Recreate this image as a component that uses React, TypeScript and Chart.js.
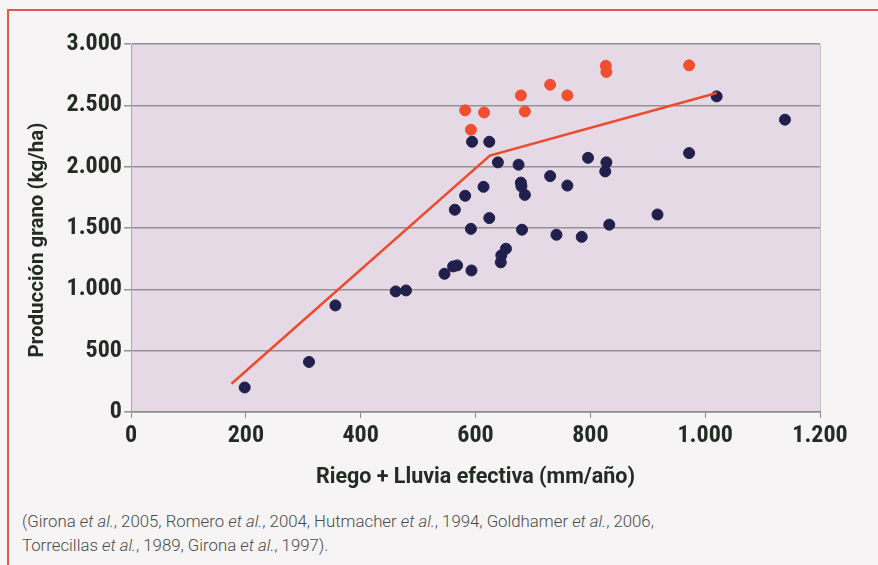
import React, { useEffect, useRef } from "react";
import { Chart, registerables } from "chart.js";

Chart.register(...registerables);

// ---- data ----
const blueX = [198, 310, 356, 461, 479, 546, 561, 568, 593, 644, 645, 653, 564, 582, 614, 592, 624, 594, 624, 639, 675, 679, 680, 686, 681, 730, 760, 741, 785, 796, 828, 826, 833, 917, 972, 1020, 1139];
const blueY = [200, 408, 869, 983, 991, 1127, 1187, 1195, 1154, 1220, 1277, 1331, 1649, 1763, 1836, 1493, 1581, 2203, 2203, 2035, 2016, 1870, 1840, 1770, 1486, 1923, 1846, 1445, 1428, 2072, 2035, 1961, 1527, 1610, 2111, 2573, 2383];
const redX = [582, 615, 592, 679, 686, 730, 760, 827, 828, 972];
const redY = [2459, 2442, 2301, 2581, 2450, 2668, 2581, 2823, 2772, 2826];
const lineX = [175, 625, 1020];
const lineY = [230, 2090, 2600];
const xTicks = [0, 200, 400, 600, 800, 1000, 1200];
const yTicks = [0, 500, 1000, 1500, 2000, 2500, 3000];
const xTitle = "Riego + Lluvia efectiva (mm/año)";
const yTitle = "Producción grano (kg/ha)";

const TICK_FONT = "'Roboto Condensed', Roboto, sans-serif";
const TITLE_FONT = "Roboto, sans-serif";
const TEXT = "#222b24";

const fmt = (v: number) => String(v).replace(/\B(?=(\d{3})+(?!\d))/g, ".");
const pts = (xs: number[], ys: number[]) => xs.map((x, i) => ({ x, y: ys[i] }));

const bgPlugin = {
  id: "plotBg",
  beforeDraw(chart: any) {
    const { ctx, chartArea: a } = chart;
    ctx.save();
    ctx.fillStyle = "#e5d9e5";
    ctx.fillRect(a.left, a.top, a.right - a.left, a.bottom - a.top);
    ctx.strokeStyle = "#c4c0c4";
    ctx.lineWidth = 1;
    ctx.beginPath();
    ctx.moveTo(a.right + 0.5, a.top);
    ctx.lineTo(a.right + 0.5, a.bottom);
    ctx.stroke();
    ctx.restore();
  },
  afterDraw(chart: any) {
    const { ctx } = chart;
    ctx.save();
    ctx.translate(38, 240);
    ctx.rotate(-Math.PI / 2);
    ctx.fillStyle = TEXT;
    ctx.font = `bold 20.5px ${TITLE_FONT}`;
    ctx.textAlign = "center";
    ctx.textBaseline = "middle";
    ctx.fillText(yTitle, 0, 0);
    ctx.restore();
  },
};

export default function App() {
  const ref = useRef<HTMLCanvasElement | null>(null);
  useEffect(() => {
    if (!ref.current) return;
    const chart = new Chart(ref.current, {
      type: "scatter",
      data: {
        datasets: [
          {
            label: "línea",
            data: pts(lineX, lineY),
            showLine: true,
            borderColor: "#ee4a2c",
            borderWidth: 2.5,
            pointRadius: 0,
            order: 0,
          },
          {
            label: "rojo",
            data: pts(redX, redY),
            backgroundColor: "#f0502f",
            borderColor: "#f0502f",
            pointRadius: 5.5,
            order: 1,
          },
          {
            label: "azul",
            data: pts(blueX, blueY),
            backgroundColor: "#211f4c",
            borderColor: "#211f4c",
            pointRadius: 5.5,
            order: 2,
          },
        ],
      },
      options: {
        animation: false,
        responsive: false,
        layout: { padding: { top: 44, left: 0, right: 58, bottom: 0 } },
        plugins: { legend: { display: false }, tooltip: { enabled: false } },
        scales: {
          x: {
            type: "linear",
            min: 0,
            max: 1200,
            afterBuildTicks: (s: any) => {
              s.ticks = xTicks.map((v) => ({ value: v }));
            },
            afterFit: (s: any) => {
              s.height = 88;
            },
            ticks: {
              callback: (v: any) => fmt(Number(v)),
              color: TEXT,
              font: { family: TICK_FONT, size: 24, weight: "bold" },
              padding: 4,
              maxRotation: 0,
            },
            grid: { drawOnChartArea: false, drawTicks: true, tickLength: 6, color: "#8a8a8a" },
            border: { color: "#8a8a8a", width: 1.5 },
            title: {
              display: true,
              text: xTitle,
              color: TEXT,
              font: { family: TITLE_FONT, size: 21.5, weight: "bold" },
              padding: { top: 0, bottom: 9 },
            },
          },
          y: {
            type: "linear",
            min: 0,
            max: 3000,
            afterBuildTicks: (s: any) => {
              s.ticks = yTicks.map((v) => ({ value: v }));
            },
            afterFit: (s: any) => {
              s.width = 131;
            },
            ticks: {
              callback: (v: any) => fmt(Number(v)),
              color: TEXT,
              font: { family: TICK_FONT, size: 24, weight: "bold" },
              padding: 2,
            },
            grid: { color: "#939393", lineWidth: 1.5, tickLength: 7 },
            border: { color: "#a8a8a8", width: 1 },
          },
        },
      },
      plugins: [bgPlugin],
    });
    return () => chart.destroy();
  }, []);

  return (
    <div
      style={{
        position: "fixed",
        left: 0,
        top: 0,
        width: 878,
        height: 565,
        background: "#f6f4f4",
        overflow: "hidden",
      }}
    >
      <div
        style={{
          position: "absolute",
          left: 7,
          top: 9,
          width: 900,
          height: 600,
          borderLeft: "2px solid #df5a48",
          borderTop: "2px solid #df5a48",
        }}
      />
      <canvas
        ref={ref}
        width={878}
        height={500}
        style={{ position: "absolute", left: 0, top: 0, width: 878, height: 500 }}
      />
      <div
        style={{
          position: "absolute",
          left: 22,
          top: 509,
          fontFamily: TITLE_FONT,
          fontWeight: 300,
          fontSize: 16.8,
          lineHeight: "24px",
          color: "#4a4a4a",
          whiteSpace: "nowrap",
        }}
      >
        (Girona <i>et al.</i>, 2005, Romero <i>et al.</i>, 2004, Hutmacher <i>et al.</i>, 1994, Goldhamer <i>et al.</i>, 2006,
        <br />
        Torrecillas <i>et al.</i>, 1989, Girona <i>et al.</i>, 1997).
      </div>
    </div>
  );
}
